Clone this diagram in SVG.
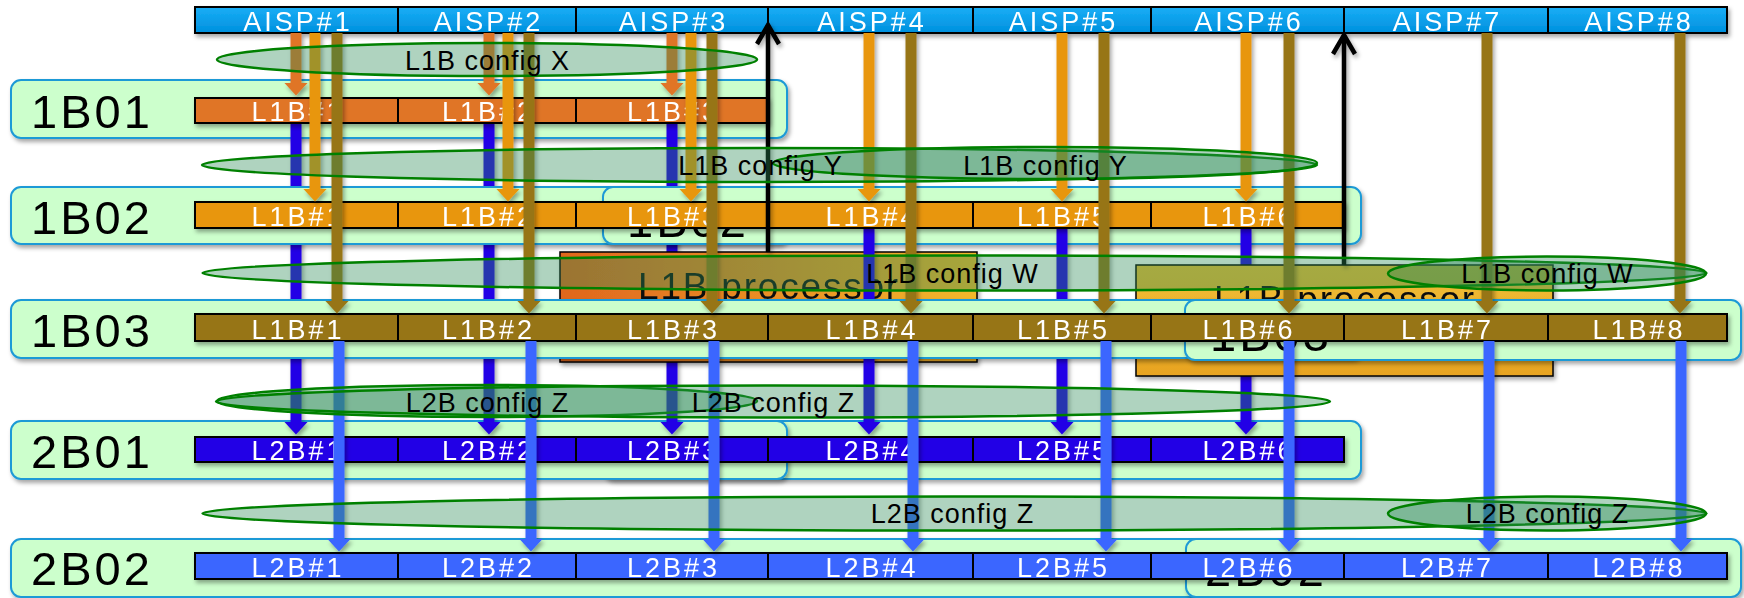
<svg xmlns="http://www.w3.org/2000/svg" width="1744" height="598" viewBox="0 0 1744 598">
<defs>
<style>
text{font-family:"Liberation Sans",Arial,sans-serif}
.bt{fill:#fff;font-size:27px;letter-spacing:3px;text-anchor:middle}
.lbl{fill:#000;font-size:47px;letter-spacing:3px}
.ct{fill:#000;font-size:27px;letter-spacing:1px;text-anchor:middle}
.pt{fill:#111;font-size:37px;letter-spacing:1.8px;text-anchor:middle}
.cell{stroke:#000;stroke-width:2}
.a{fill:url(#gA)}
.c1{fill:#E07428}.c2{fill:#E8960E}.c3{fill:#977416}.c4{fill:#2400E6}.c5{fill:#3A66FF}
.cont{fill:#CCFFCC;stroke:#1E9AD6;stroke-width:2}
.cfg{fill:#2E8B57;fill-opacity:.38;stroke:#008000;stroke-width:2.5}
.ar{stroke-width:11;fill:none}
.s1{stroke:#E07428}.s2{stroke:#E8960E}.s3{stroke:#977416}.s4{stroke:#2400E6}.s5{stroke:#3A66FF}
.blk{stroke:#000;stroke-width:4.5;fill:none}
.proc{stroke:#000;stroke-width:1.5}
</style>
<linearGradient id="gA" x1="0" y1="0" x2="0" y2="1"><stop offset="0" stop-color="#18AEF6"/><stop offset="1" stop-color="#0090DE"/></linearGradient>
<linearGradient id="gP1" x1="0" y1="0" x2="1" y2="0"><stop offset="0" stop-color="#E0661E"/><stop offset="1" stop-color="#F2B82C"/></linearGradient>
<linearGradient id="gP2" x1="0" y1="0" x2="0" y2="1"><stop offset="0" stop-color="#F0BE36"/><stop offset="1" stop-color="#E8A420"/></linearGradient>
<filter id="sh" filterUnits="userSpaceOnUse" x="-10" y="-10" width="1764" height="618"><feDropShadow dx="2" dy="3" stdDeviation="2" flood-color="#000" flood-opacity="0.35"/></filter>
<marker id="m1" viewBox="0 0 13 24" refX="0.5" refY="12" markerWidth="13" markerHeight="24" markerUnits="userSpaceOnUse" orient="auto"><path d="M0,0L13,12L0,24Z" fill="#E07428"/></marker>
<marker id="m2" viewBox="0 0 13 24" refX="0.5" refY="12" markerWidth="13" markerHeight="24" markerUnits="userSpaceOnUse" orient="auto"><path d="M0,0L13,12L0,24Z" fill="#E8960E"/></marker>
<marker id="m3" viewBox="0 0 13 24" refX="0.5" refY="12" markerWidth="13" markerHeight="24" markerUnits="userSpaceOnUse" orient="auto"><path d="M0,0L13,12L0,24Z" fill="#977416"/></marker>
<marker id="m4" viewBox="0 0 13 24" refX="0.5" refY="12" markerWidth="13" markerHeight="24" markerUnits="userSpaceOnUse" orient="auto"><path d="M0,0L13,12L0,24Z" fill="#2400E6"/></marker>
<marker id="m5" viewBox="0 0 13 24" refX="0.5" refY="12" markerWidth="13" markerHeight="24" markerUnits="userSpaceOnUse" orient="auto"><path d="M0,0L13,12L0,24Z" fill="#3A66FF"/></marker>
<marker id="mK" viewBox="-24 -15 28 30" refX="0" refY="0" markerWidth="28" markerHeight="30" markerUnits="userSpaceOnUse" orient="auto"><path d="M-19,-11L0,0L-19,11" fill="none" stroke="#000" stroke-width="4.5"/></marker>
</defs>
<rect width="1744" height="598" fill="#fff"/>

<g id="aisp" filter="url(#sh)">
<rect class="cell a" x="195" y="7" width="203" height="26"/><rect class="cell a" x="398" y="7" width="178" height="26"/><rect class="cell a" x="576" y="7" width="192" height="26"/><rect class="cell a" x="768" y="7" width="205" height="26"/><rect class="cell a" x="973" y="7" width="178" height="26"/><rect class="cell a" x="1151" y="7" width="193" height="26"/><rect class="cell a" x="1344" y="7" width="204" height="26"/><rect class="cell a" x="1548" y="7" width="179" height="26"/>
<text class="bt" x="298" y="31">AISP#1</text><text class="bt" x="488.5" y="31">AISP#2</text><text class="bt" x="673.5" y="31">AISP#3</text><text class="bt" x="872" y="31">AISP#4</text><text class="bt" x="1063.5" y="31">AISP#5</text><text class="bt" x="1249" y="31">AISP#6</text><text class="bt" x="1447.5" y="31">AISP#7</text><text class="bt" x="1639" y="31">AISP#8</text>
</g>

<g id="node-1B01-box" filter="url(#sh)"><rect class="cont" x="11" y="80" width="776" height="58" rx="10"/><text class="lbl" x="31" y="128">1B01</text></g>
<g id="node-2B01-box-b" filter="url(#sh)"><rect class="cont" x="603" y="421" width="758" height="58" rx="10"/></g>
<g id="node-2B01-box" filter="url(#sh)"><rect class="cont" x="11" y="421" width="776" height="58" rx="10"/><text class="lbl" x="31" y="468">2B01</text></g>

<g id="connectors-2b01-a" filter="url(#sh)">
<line class="ar s4" x1="296" y1="123" x2="296" y2="422" marker-end="url(#m4)"/>
<line class="ar s4" x1="489" y1="123" x2="489" y2="422" marker-end="url(#m4)"/>
<line class="ar s4" x1="672" y1="123" x2="672" y2="422" marker-end="url(#m4)"/>
</g>

<g id="node-1B02-box" filter="url(#sh)"><rect class="cont" x="11" y="187" width="776" height="57" rx="10"/><text class="lbl" x="31" y="234">1B02</text></g>
<g id="node-1B02-box-b" filter="url(#sh)"><rect class="cont" x="603" y="187" width="758" height="57" rx="10"/><text class="lbl" x="627" y="237">1B02</text></g>

<g id="node-proc1" filter="url(#sh)"><rect class="proc" x="560" y="252" width="417" height="110" fill="url(#gP1)"/><text class="pt" x="769" y="299">L1B processor</text></g>

<g id="connectors-2b01-b" filter="url(#sh)">
<line class="ar s4" x1="869" y1="228" x2="869" y2="422" marker-end="url(#m4)"/>
<line class="ar s4" x1="1062" y1="228" x2="1062" y2="422" marker-end="url(#m4)"/>
<line class="ar s4" x1="1246" y1="228" x2="1246" y2="422" marker-end="url(#m4)"/>
</g>

<g id="node-proc2" filter="url(#sh)"><rect class="proc" x="1136" y="265" width="417" height="111" fill="url(#gP2)"/><text class="pt" x="1345" y="312">L1B processor</text></g>

<g id="node-1B03-box" filter="url(#sh)"><rect class="cont" x="11" y="300" width="1350" height="58" rx="10"/><text class="lbl" x="31" y="347">1B03</text></g>
<g id="node-1B03-box-b" filter="url(#sh)"><rect class="cont" x="1185" y="300" width="556" height="60" rx="10"/><text class="lbl" x="1210" y="351">1B03</text></g>
<g id="node-2B02-box" filter="url(#sh)"><rect class="cont" x="11" y="539" width="1350" height="58" rx="10"/><text class="lbl" x="31" y="585">2B02</text></g>
<g id="node-2B02-box-b" filter="url(#sh)"><rect class="cont" x="1186" y="539" width="555" height="58" rx="10"/><text class="lbl" x="1205" y="586">2B02</text></g>

<g id="node-1B01" filter="url(#sh)">
<rect class="cell c1" x="195" y="98" width="203" height="25"/><rect class="cell c1" x="398" y="98" width="178" height="25"/><rect class="cell c1" x="576" y="98" width="192" height="25"/>
<text class="bt" x="298" y="121">L1B#1</text><text class="bt" x="488.5" y="121">L1B#2</text><text class="bt" x="673.5" y="121">L1B#3</text>
</g>
<g id="node-1B02" filter="url(#sh)">
<rect class="cell c2" x="195" y="202" width="203" height="26"/><rect class="cell c2" x="398" y="202" width="178" height="26"/><rect class="cell c2" x="576" y="202" width="192" height="26"/><rect class="cell c2" x="768" y="202" width="205" height="26"/><rect class="cell c2" x="973" y="202" width="178" height="26"/><rect class="cell c2" x="1151" y="202" width="193" height="26"/>
<text class="bt" x="298" y="226">L1B#1</text><text class="bt" x="488.5" y="226">L1B#2</text><text class="bt" x="673.5" y="226">L1B#3</text><text class="bt" x="872" y="226">L1B#4</text><text class="bt" x="1063.5" y="226">L1B#5</text><text class="bt" x="1249" y="226">L1B#6</text>
</g>
<g id="node-1B03" filter="url(#sh)">
<rect class="cell c3" x="195" y="314" width="203" height="27"/><rect class="cell c3" x="398" y="314" width="178" height="27"/><rect class="cell c3" x="576" y="314" width="192" height="27"/><rect class="cell c3" x="768" y="314" width="205" height="27"/><rect class="cell c3" x="973" y="314" width="178" height="27"/><rect class="cell c3" x="1151" y="314" width="193" height="27"/><rect class="cell c3" x="1344" y="314" width="204" height="27"/><rect class="cell c3" x="1548" y="314" width="179" height="27"/>
<text class="bt" x="298" y="339">L1B#1</text><text class="bt" x="488.5" y="339">L1B#2</text><text class="bt" x="673.5" y="339">L1B#3</text><text class="bt" x="872" y="339">L1B#4</text><text class="bt" x="1063.5" y="339">L1B#5</text><text class="bt" x="1249" y="339">L1B#6</text><text class="bt" x="1447.5" y="339">L1B#7</text><text class="bt" x="1639" y="339">L1B#8</text>
</g>
<g id="node-2B01" filter="url(#sh)">
<rect class="cell c4" x="195" y="437" width="203" height="25"/><rect class="cell c4" x="398" y="437" width="178" height="25"/><rect class="cell c4" x="576" y="437" width="192" height="25"/><rect class="cell c4" x="768" y="437" width="205" height="25"/><rect class="cell c4" x="973" y="437" width="178" height="25"/><rect class="cell c4" x="1151" y="437" width="193" height="25"/>
<text class="bt" x="298" y="460">L2B#1</text><text class="bt" x="488.5" y="460">L2B#2</text><text class="bt" x="673.5" y="460">L2B#3</text><text class="bt" x="872" y="460">L2B#4</text><text class="bt" x="1063.5" y="460">L2B#5</text><text class="bt" x="1249" y="460">L2B#6</text>
</g>
<g id="node-2B02" filter="url(#sh)">
<rect class="cell c5" x="195" y="553" width="203" height="26"/><rect class="cell c5" x="398" y="553" width="178" height="26"/><rect class="cell c5" x="576" y="553" width="192" height="26"/><rect class="cell c5" x="768" y="553" width="205" height="26"/><rect class="cell c5" x="973" y="553" width="178" height="26"/><rect class="cell c5" x="1151" y="553" width="193" height="26"/><rect class="cell c5" x="1344" y="553" width="204" height="26"/><rect class="cell c5" x="1548" y="553" width="179" height="26"/>
<text class="bt" x="298" y="577">L2B#1</text><text class="bt" x="488.5" y="577">L2B#2</text><text class="bt" x="673.5" y="577">L2B#3</text><text class="bt" x="872" y="577">L2B#4</text><text class="bt" x="1063.5" y="577">L2B#5</text><text class="bt" x="1249" y="577">L2B#6</text><text class="bt" x="1447.5" y="577">L2B#7</text><text class="bt" x="1639" y="577">L2B#8</text>
</g>

<g id="connectors" filter="url(#sh)">
<line class="ar s1" x1="296" y1="33" x2="296" y2="83" marker-end="url(#m1)"/>
<line class="ar s1" x1="489" y1="33" x2="489" y2="83" marker-end="url(#m1)"/>
<line class="ar s1" x1="672" y1="33" x2="672" y2="83" marker-end="url(#m1)"/>
<line class="ar s2" x1="315" y1="33" x2="315" y2="189" marker-end="url(#m2)"/>
<line class="ar s2" x1="508" y1="33" x2="508" y2="189" marker-end="url(#m2)"/>
<line class="ar s2" x1="691" y1="33" x2="691" y2="189" marker-end="url(#m2)"/>
<line class="ar s2" x1="869" y1="33" x2="869" y2="189" marker-end="url(#m2)"/>
<line class="ar s2" x1="1062" y1="33" x2="1062" y2="189" marker-end="url(#m2)"/>
<line class="ar s2" x1="1246" y1="33" x2="1246" y2="189" marker-end="url(#m2)"/>
<line class="ar s3" x1="337" y1="33" x2="337" y2="301" marker-end="url(#m3)"/>
<line class="ar s3" x1="529" y1="33" x2="529" y2="301" marker-end="url(#m3)"/>
<line class="ar s3" x1="712" y1="33" x2="712" y2="301" marker-end="url(#m3)"/>
<line class="ar s3" x1="911" y1="33" x2="911" y2="301" marker-end="url(#m3)"/>
<line class="ar s3" x1="1104" y1="33" x2="1104" y2="301" marker-end="url(#m3)"/>
<line class="ar s3" x1="1289" y1="33" x2="1289" y2="301" marker-end="url(#m3)"/>
<line class="ar s3" x1="1487" y1="33" x2="1487" y2="301" marker-end="url(#m3)"/>
<line class="ar s3" x1="1680" y1="33" x2="1680" y2="301" marker-end="url(#m3)"/>
<line class="ar s5" x1="339" y1="341" x2="339" y2="539" marker-end="url(#m5)"/>
<line class="ar s5" x1="531" y1="341" x2="531" y2="539" marker-end="url(#m5)"/>
<line class="ar s5" x1="714" y1="341" x2="714" y2="539" marker-end="url(#m5)"/>
<line class="ar s5" x1="913" y1="341" x2="913" y2="539" marker-end="url(#m5)"/>
<line class="ar s5" x1="1106" y1="341" x2="1106" y2="539" marker-end="url(#m5)"/>
<line class="ar s5" x1="1289" y1="341" x2="1289" y2="539" marker-end="url(#m5)"/>
<line class="ar s5" x1="1489" y1="341" x2="1489" y2="539" marker-end="url(#m5)"/>
<line class="ar s5" x1="1681" y1="341" x2="1681" y2="539" marker-end="url(#m5)"/>
<line class="blk" x1="768" y1="252" x2="768" y2="25" marker-end="url(#mK)"/>
<line class="blk" x1="1344" y1="265" x2="1344" y2="35" marker-end="url(#mK)"/>
</g>

<g id="configs">
<ellipse class="cfg" cx="487" cy="59.5" rx="270" ry="16.5"/>
<ellipse class="cfg" cx="759.5" cy="165" rx="557.5" ry="17"/>
<ellipse class="cfg" cx="1045" cy="163" rx="272" ry="16"/>
<ellipse class="cfg" cx="954.5" cy="273" rx="752" ry="17.5"/>
<ellipse class="cfg" cx="1547" cy="273.5" rx="159" ry="17"/>
<ellipse class="cfg" cx="487" cy="401" rx="270" ry="16"/>
<ellipse class="cfg" cx="773" cy="401.5" rx="557" ry="16"/>
<ellipse class="cfg" cx="954.5" cy="513.5" rx="752" ry="17"/>
<ellipse class="cfg" cx="1547" cy="513.5" rx="159" ry="17"/>
<text class="ct" x="487.5" y="70">L1B config X</text>
<text class="ct" x="760.5" y="175">L1B config Y</text>
<text class="ct" x="1045.5" y="175">L1B config Y</text>
<text class="ct" x="952.5" y="283">L1B config W</text>
<text class="ct" x="1547.5" y="283">L1B config W</text>
<text class="ct" x="487.5" y="412">L2B config Z</text>
<text class="ct" x="773.5" y="412">L2B config Z</text>
<text class="ct" x="952.5" y="523">L2B config Z</text>
<text class="ct" x="1547.5" y="523">L2B config Z</text>
</g>
</svg>
